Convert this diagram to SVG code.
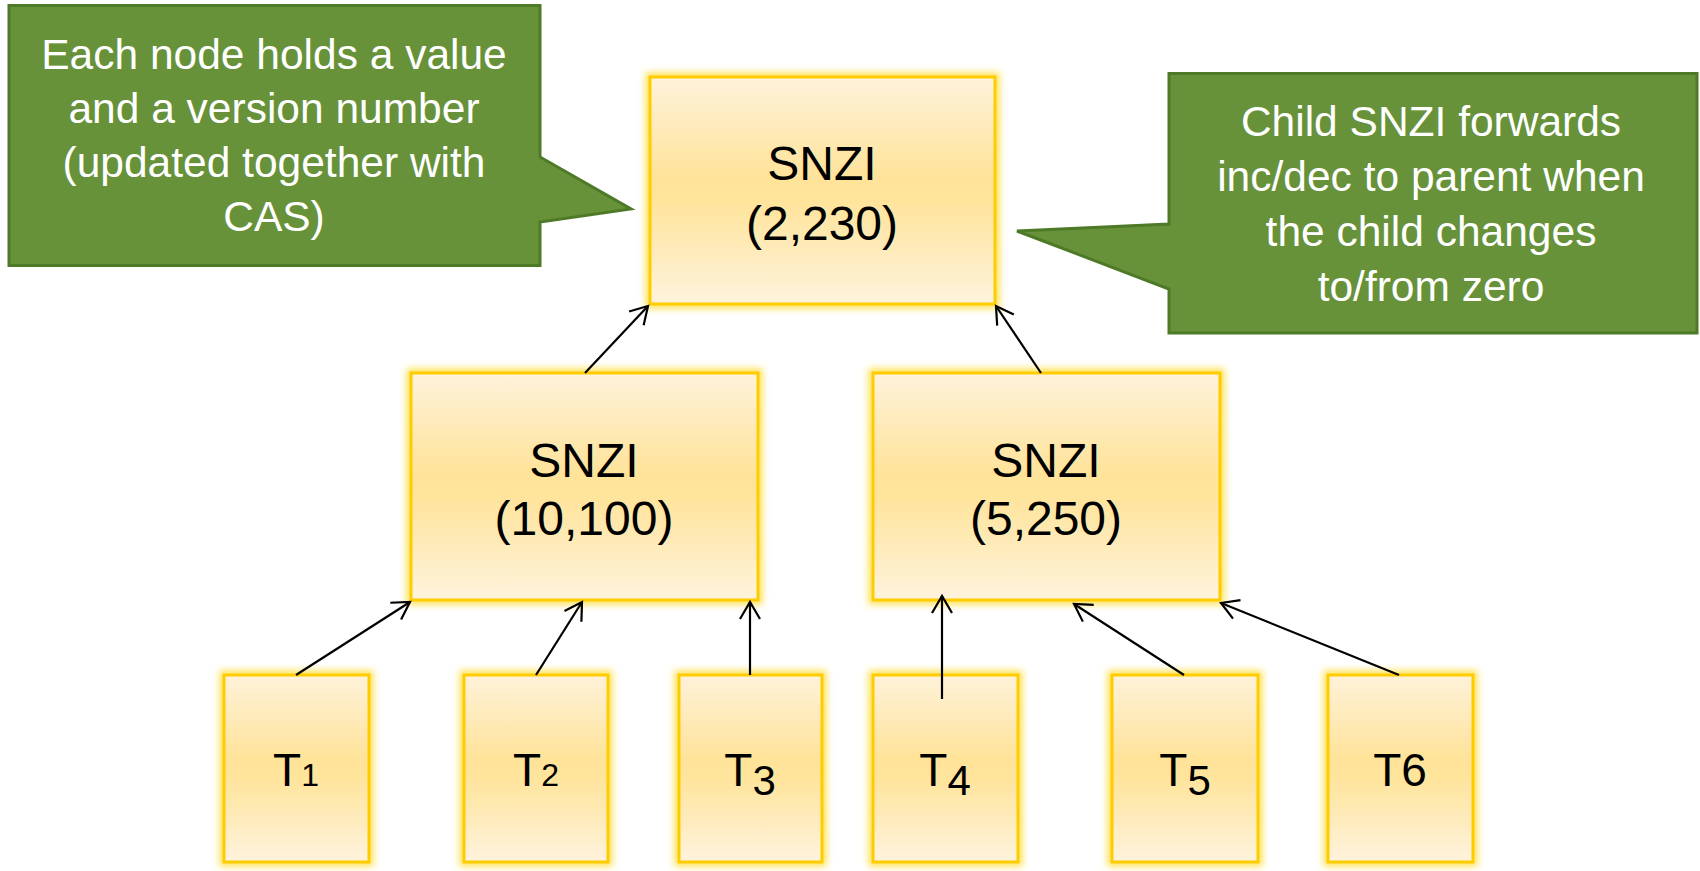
<svg xmlns="http://www.w3.org/2000/svg" width="1700" height="871" viewBox="0 0 1700 871">
<style>
.box{fill:url(#boxfill);stroke:#FFCC00;stroke-width:3;filter:url(#glow)}
.lbl{font-family:"Liberation Sans",Arial,sans-serif;fill:#000;text-anchor:middle}
.snzi{font-size:48px}
.t{font-size:46px}
.call{fill:#67923A;stroke:#4E7A28;stroke-width:3;stroke-linejoin:miter}
.ctext{font-family:"Liberation Sans",Arial,sans-serif;font-size:42.5px;fill:#fff;text-anchor:middle}
.conn line{stroke:#000;stroke-width:2.2;fill:none;marker-end:url(#arr)}
</style>
<defs>
<linearGradient id="boxfill" x1="0" y1="0" x2="0" y2="1">
<stop offset="0" stop-color="#FEF2DA"/>
<stop offset="0.45" stop-color="#FFE399"/>
<stop offset="0.55" stop-color="#FFE49C"/>
<stop offset="1" stop-color="#FEF3DD"/>
</linearGradient>
<filter id="glow" x="-20%" y="-20%" width="140%" height="140%">
<feMorphology in="SourceAlpha" operator="dilate" radius="3" result="d"/>
<feGaussianBlur in="d" stdDeviation="3.5" result="b"/>
<feFlood flood-color="#FFDD33" flood-opacity="0.85"/>
<feComposite in2="b" operator="in" result="g"/>
<feMerge><feMergeNode in="g"/><feMergeNode in="SourceGraphic"/></feMerge>
</filter>
<marker id="arr" markerUnits="userSpaceOnUse" markerWidth="24" markerHeight="24" refX="17" refY="10" orient="auto" overflow="visible">
<path d="M0,0 L17,10 L0,20" fill="none" stroke="#000" stroke-width="2.2"/>
</marker>
</defs>
<rect width="1700" height="871" fill="#fff"/>

<g id="callout-left">
<path class="call" d="M9,5.5 H540 V157 L631,209 L540,222 V265.5 H9 Z"/>
<text class="ctext" x="274" y="69">Each node holds a value</text>
<text class="ctext" x="274" y="123">and a version number</text>
<text class="ctext" x="274" y="177">(updated together with</text>
<text class="ctext" x="274" y="231">CAS)</text>
</g>

<g id="callout-right">
<path class="call" d="M1169,73.5 H1697 V333 H1169 V289 L1017,231 L1169,224 Z"/>
<text class="ctext" x="1431" y="136">Child SNZI forwards</text>
<text class="ctext" x="1431" y="191">inc/dec to parent when</text>
<text class="ctext" x="1431" y="246">the child changes</text>
<text class="ctext" x="1431" y="301">to/from zero</text>
</g>

<g id="snzi-root">
<rect class="box" x="650" y="77" width="345" height="227"/>
<text class="lbl snzi" x="822" y="180">SNZI</text>
<text class="lbl snzi" x="822" y="240">(2,230)</text>
</g>

<g id="snzi-left">
<rect class="box" x="411" y="373" width="347" height="227"/>
<text class="lbl snzi" x="584" y="477">SNZI</text>
<text class="lbl snzi" x="584" y="535">(10,100)</text>
</g>

<g id="snzi-right">
<rect class="box" x="873" y="373" width="347" height="227"/>
<text class="lbl snzi" x="1046" y="477">SNZI</text>
<text class="lbl snzi" x="1046" y="535">(5,250)</text>
</g>

<g id="t1">
<rect class="box" x="224" y="675" width="145" height="187"/>
<text class="lbl t" x="296" y="786">T<tspan font-size="32">1</tspan></text>
</g>
<g id="t2">
<rect class="box" x="464" y="675" width="144" height="187"/>
<text class="lbl t" x="536" y="786">T<tspan font-size="32">2</tspan></text>
</g>
<g id="t3">
<rect class="box" x="679" y="675" width="143" height="187"/>
<text class="lbl t" x="750" y="786">T<tspan font-size="42" dy="9">3</tspan></text>
</g>
<g id="t4">
<rect class="box" x="873" y="675" width="145" height="187"/>
<text class="lbl t" x="945" y="786">T<tspan font-size="42" dy="9">4</tspan></text>
</g>
<g id="t5">
<rect class="box" x="1112" y="675" width="146" height="187"/>
<text class="lbl t" x="1185" y="786">T<tspan font-size="42" dy="9">5</tspan></text>
</g>
<g id="t6">
<rect class="box" x="1328" y="675" width="145" height="187"/>
<text class="lbl t" x="1400" y="786">T6</text>
</g>

<g id="connectors" class="conn">
<line x1="585" y1="373" x2="648" y2="306"/>
<line x1="1041" y1="373" x2="996" y2="306"/>
<line x1="296" y1="675" x2="410" y2="602"/>
<line x1="536" y1="675" x2="582" y2="602"/>
<line x1="750" y1="675" x2="750" y2="602"/>
<line x1="942" y1="699" x2="942" y2="596"/>
<line x1="1184" y1="675" x2="1074" y2="604"/>
<line x1="1399" y1="675" x2="1221" y2="603"/>
</g>
</svg>
